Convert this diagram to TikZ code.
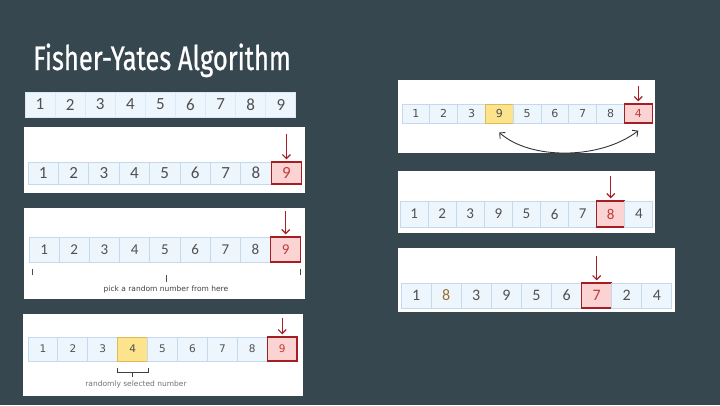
\documentclass[tikz,border=0pt]{standalone}
\usepackage{fontspec}
\setmainfont{DejaVu Sans}
\newfontfamily\titlefont[FakeStretch=0.75,FakeBold=0.6]{Fira Sans}
\newfontfamily\numfont{Carlito}
\usetikzlibrary{calc,arrows.meta}

\definecolor{bgslate}{HTML}{37474F}
\definecolor{cellfill}{HTML}{EEF6FD}
\definecolor{cellline}{HTML}{C4D8EE}
\definecolor{digitgray}{HTML}{505050}
\definecolor{pickfill}{HTML}{FBD3D3}
\definecolor{pickline}{HTML}{A51E24}
\definecolor{picktext}{HTML}{C23A3A}
\definecolor{randfill}{HTML}{FCE38C}
\definecolor{randline}{HTML}{DDBB55}
\definecolor{numbrown}{HTML}{9A7030}

\tikzset{
    cellbox/.style={draw=cellline, fill=cellfill, text=digitgray,
        line width=0.9pt, inner sep=0pt},
    redbox/.style={cellbox, draw=pickline, fill=pickfill, text=picktext,
        line width=1.3pt},
    yelbox/.style={cellbox, draw=randline, fill=randfill},
    brownbox/.style={cellbox, text=numbrown},
    panel/.style={fill=white, draw=none},
    pickarrow/.style={draw=pickline, line width=1.2pt,
        -{Straight Barb[length=4pt,width=8pt]}, shorten >=2pt},
    caption/.style={font=\fontsize{7.5}{8}\selectfont, text=black!75}
}

\begin{document}
\begin{tikzpicture}[x=1pt, y=-1pt]
    % 背景与标题(y 轴向下,与截图像素坐标一致)
    \fill[bgslate] (0,0) rectangle (720,405);
    \useasboundingbox (0,0) rectangle (720,405);
    \node[anchor=base west, inner sep=0pt, text=white,
        font=\titlefont\fontsize{34}{34}\selectfont] (title) at (33,70)
        {Fisher-Yates Algorithm};

    % 第一行:原始数组
    \foreach \v/\s [count=\i] in {1/cellbox,2/cellbox,3/cellbox,4/cellbox,
            5/cellbox,6/cellbox,7/cellbox,8/cellbox,9/cellbox}
        \node[\s, draw=cellline!60, minimum width=30.1pt, minimum height=25pt,
            font=\numfont\fontsize{17}{17}\selectfont]
            (p1c\i) at (25+30.1*\i-15.05, 104.5) {\v};

    % 第二块:选中最后一个元素
    \fill[panel] (24,127) rectangle (305,193);
    \foreach \v/\s [count=\i] in {1/cellbox,2/cellbox,3/cellbox,4/cellbox,
            5/cellbox,6/cellbox,7/cellbox,8/cellbox,9/redbox}
        \node[\s, minimum width=30.4pt, minimum height=22pt,
            font=\numfont\fontsize{17}{17}\selectfont]
            (p2c\i) at (28+30.4*\i-15.2, 173) {\v};
    \coordinate (p2tip) at ($(p2c9.north)+(0,-27)$);
    \draw[pickarrow] (p2tip) -- (p2c9);

    % 第三块:随机数的取值范围
    \fill[panel] (24,208) rectangle (305,299);
    \foreach \v/\s [count=\i] in {1/cellbox,2/cellbox,3/cellbox,4/cellbox,
            5/cellbox,6/cellbox,7/cellbox,8/cellbox,9/redbox}
        \node[\s, minimum width=30.2pt, minimum height=25pt,
            font=\numfont\fontsize{15}{15}\selectfont]
            (p3c\i) at (29+30.2*\i-15.1, 249.5) {\v};
    \coordinate (p3tip) at ($(p3c9.north)+(0,-25)$);
    \draw[pickarrow] (p3tip) -- (p3c9);
    \draw[black!70, line width=0.8pt] (32,269) -- (32,275)
        (300,269) -- (300,275) (166,275) -- (166,282);
    \node[caption] (p3txt) at (166,289) {pick a random number from here};

    % 第四块:随机选中的数
    \fill[panel] (23,314) rectangle (303,396);
    \foreach \v/\s [count=\i] in {1/cellbox,2/cellbox,3/cellbox,4/yelbox,
            5/cellbox,6/cellbox,7/cellbox,8/cellbox,9/redbox}
        \node[\s, minimum width=29.9pt, minimum height=24pt,
            font=\fontsize{10.5}{11}\selectfont]
            (p4c\i) at (28+29.9*\i-14.95, 349) {\v};
    \coordinate (p4tip) at ($(p4c9.north)+(0,-18)$);
    \draw[pickarrow] (p4tip) -- (p4c9);
    \draw[black!75, line width=0.8pt]
        ($(p4c4.south west)+(0,7)$) -- ++(0,4) -- ($(p4c4.south east)+(0,11)$)
        -- ++(0,-4);
    \draw[black!75, line width=0.8pt]
        ($(p4c4.south)+(0,11)$) -- ++(0,5);
    \node[caption, text=black!55] (p4txt) at (136,384) {randomly selected number};

    % 右上:交换两个元素
    \fill[panel] (398,80) rectangle (655,153);
    \foreach \v/\s [count=\i] in {1/cellbox,2/cellbox,3/cellbox,9/yelbox,
            5/cellbox,6/cellbox,7/cellbox,8/cellbox,4/redbox}
        \node[\s, minimum width=27.8pt, minimum height=19pt,
            font=\fontsize{11}{11}\selectfont]
            (p5c\i) at (402+27.8*\i-13.9, 113.5) {\v};
    \coordinate (p5tip) at ($(p5c9.north)+(0,-17)$);
    \draw[pickarrow] (p5tip) -- (p5c9);
    \coordinate (swapL) at ($(p5c4.south)+(0,9)$);
    \coordinate (swapR) at ($(p5c9.south)+(0,7)$);
    \draw[black!80, line width=0.9pt,
        {Straight Barb[length=4pt,width=8pt]}-{Straight Barb[length=4pt,width=8pt]}]
        (swapL) .. controls (530,160) and (600,160) .. (swapR);

    % 右中:指针左移一位
    \fill[panel] (398,171) rectangle (655,233);
    \foreach \v/\s [count=\i] in {1/cellbox,2/cellbox,3/cellbox,9/cellbox,
            5/cellbox,6/cellbox,7/cellbox,8/redbox,4/cellbox}
        \node[\s, minimum width=28.1pt, minimum height=26pt,
            font=\numfont\fontsize{15}{15}\selectfont]
            (p6c\i) at (400+28.1*\i-14.05, 214) {\v};
    \coordinate (p6tip) at ($(p6c8.north)+(0,-24)$);
    \draw[pickarrow] (p6tip) -- (p6c8);

    % 右下:继续交换
    \fill[panel] (398,248) rectangle (675,312);
    \foreach \v/\s [count=\i] in {1/cellbox,8/brownbox,3/cellbox,
            9/cellbox,5/cellbox,6/cellbox,7/redbox,2/cellbox,4/cellbox}
        \node[\s, minimum width=30.1pt, minimum height=25pt,
            font=\numfont\fontsize{16}{16}\selectfont]
            (p7c\i) at (401+30.1*\i-15.05, 295.5) {\v};
    \coordinate (p7tip) at ($(p7c7.north)+(0,-26)$);
    \draw[pickarrow] (p7tip) -- (p7c7);
\end{tikzpicture}
\end{document}
